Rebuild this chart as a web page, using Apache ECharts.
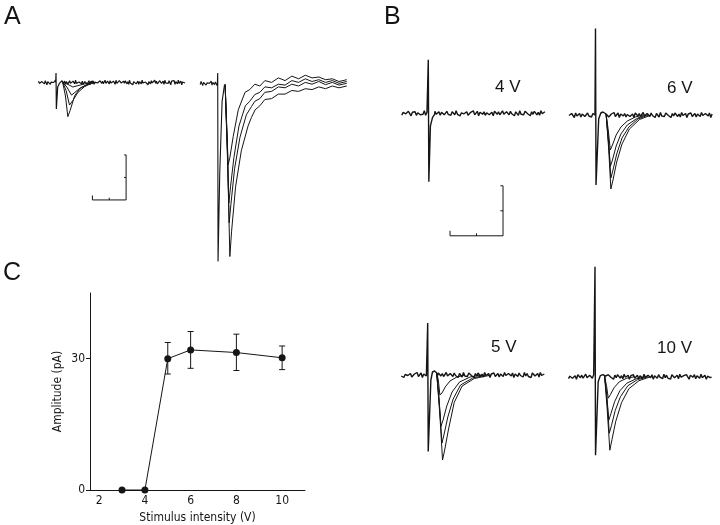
<!DOCTYPE html>
<html><head><meta charset="utf-8">
<script src="https://cdn.jsdelivr.net/npm/echarts@6/dist/echarts.min.js"></script>
<style>html,body{margin:0;padding:0;background:#fff}#c{width:720px;height:525px}</style>
</head><body><div id="c"></div>
<script>
// ---------- Panel C data ----------
const stimV  = [3, 4, 5, 6, 8, 10];
const ampPA  = [0, 0, 30.0, 32.0, 31.4, 30.2];
const errLo  = [null, null, 26.5, 27.8, 27.3, 27.5];
const errHi  = [null, null, 33.7, 36.2, 35.6, 32.9];
const xTicks = [2, 4, 6, 8, 10];
const yTicks = [0, 30];

// ---------- baseline noise (pA), one value every 0.25 ms ----------
const noise = [
  3,-2,1,-4,2,5,-1,-3,4,0,-5,2,-2,3,-4,1,4,-3,0,-2,
  5,-4,2,-1,-3,3,1,-5,4,-2,0,3,-4,2,5,-3,-1,4,-2,1,
  -4,3,0,-3,5,-2,2,-5,1,4,-1,-3,3,-4,0,2,-2,5,-3,1,
  4,-5,2,0,-2,3,-4,1,5,-3,-1,2,-5,4,0,-2,3,-3,1,5,
  -2,-4,3,1,-3,4,-1,2,-5,3,0,-4,5,-2,1,-3,4,0,-1,2,
  -5,3,-2,4,1,-3,2,-4,5,-1,0,3,-5,2,-2,4,-3,1,3,-4,
  2,0,-3,5,-1,-4,3,1,-2,4,-5,2,0,-3,4,-1,1,-4,5,-2,
  3,-3,1,-5,4,2,-2,0,3,-4,5,-1,-3,2,-2,4,1,-5,3,0,
  -1,4,-4,2,1,-3,5,-2,0,3,-5,1,4,-2,-1,3,-4,2,0,-3];

// ---------- stimulus artifacts [ms, pA] ----------
const artA1  = [[-0.1,0],[0,21],[0.1,-59],[0.5,-10],[1.0,-2],[1.5,0]];
const artA2  = [[-0.1,0],[0,23],[0.1,-396],[0.6,-200],[1.3,-40],[2.0,-4],[2.2,-3]];
const art4V  = [[-0.1,0],[0,107],[0.1,-137],[0.4,-25],[0.8,-8],[1.2,-2],[1.5,0]];
const art6V  = [[-0.1,0],[0,173],[0.1,-140],[0.6,-8],[1.0,4],[1.4,6],[2.0,2]];
const art5V  = [[-0.1,0],[0,104],[0.1,-153],[0.6,-10],[0.9,6],[1.3,8],[1.7,4]];
const art10V = [[-0.1,0],[0,220],[0.1,-157],[0.6,-10],[1.0,2],[1.5,4],[1.8,2]];

// ---------- A, left: EPSCs [ms, pA] ----------
const a1 = [[2.0,0],[3.5,-4],[5.0,-10],[6.5,-7],[8.5,-3],[11,0]];
const a2 = [[2.0,0],[3.2,-10],[4.6,-28],[5.6,-22],[7.2,-12],[9.5,-4],[12,0]];
const a3 = [[2.0,0],[3.0,-18],[4.0,-50],[5.0,-40],[6.5,-22],[8.5,-9],[11,0]];
const a4 = [[2.0,0],[2.8,-30],[3.5,-76],[4.2,-62],[5.5,-30],[7,-14],[9,-5],[11,0]];

// ---------- A, right: EPSCs [ms, pA] ----------
const r1 = [[2.2,-3],[2.7,-100],[3.1,-181],[3.6,-165],[4.6,-118],[6.1,-59],[8.1,-20],[9.5,-14],[11,-2],[12.5,-6],[14,6],[16,2],[18,12],[20,6],[22,16],[24,10],[26,18],[28,12],[30,14],[32,8],[34,10],[36,4],[38.3,8]];
const r2 = [[2.2,-3],[2.8,-130],[3.3,-266],[3.8,-230],[4.8,-165],[6.3,-95],[8.2,-50],[9.5,-40],[11,-25],[12.5,-20],[14,-8],[16,-10],[18,-2],[20,-4],[22,6],[24,2],[26,10],[28,4],[30,8],[32,2],[34,6],[36,0],[38.3,4]];
const r3 = [[2.2,-3],[2.9,-150],[3.4,-310],[3.9,-270],[5.0,-190],[6.6,-120],[8.5,-70],[10,-52],[11,-40],[12.5,-34],[14,-20],[16,-18],[18,-8],[20,-10],[22,-2],[24,-6],[26,2],[28,-2],[30,4],[32,-3],[34,2],[36,-4],[38.3,0]];
const r4 = [[2.2,-3],[3.0,-190],[3.6,-385],[4.1,-330],[5.3,-230],[7,-150],[9,-95],[10,-76],[11.1,-59],[12.5,-50],[14,-36],[16,-34],[18,-24],[20,-24],[22,-16],[24,-18],[26,-12],[28,-14],[30,-8],[32,-12],[34,-6],[36,-10],[38.3,-6]];

// ---------- B, 6 V ----------
const f1 = [[2.0,2],[2.4,-30],[2.8,-70],[3.2,-60],[3.9,-40],[4.8,-24],[6,-12],[7.5,-4],[9,0]];
const f2 = [[2.0,2],[2.4,-45],[2.8,-103],[3.2,-90],[3.9,-62],[4.8,-38],[6,-20],[7.8,-7],[9.5,0]];
const f3 = [[2.0,2],[2.5,-60],[2.9,-126],[3.3,-110],[4,-78],[5,-46],[6.3,-24],[8,-8],[10,0]];
const f4 = [[2.0,2],[2.5,-70],[2.9,-148],[3.3,-130],[4,-94],[5,-58],[6.4,-28],[8.3,-9],[10.5,0]];

// ---------- B, 5 V ----------
const e1 = [[1.7,4],[2.0,-10],[2.3,-40],[2.7,-36],[3.3,-24],[4.2,-12],[5.5,-4],[7,0]];
const e2 = [[1.7,4],[2.1,-40],[2.5,-103],[2.9,-90],[3.6,-62],[4.6,-34],[6,-14],[8,-4],[10,0]];
const e3 = [[1.7,4],[2.2,-60],[2.7,-136],[3.1,-118],[3.8,-84],[4.8,-48],[6.2,-20],[8.5,-6],[11,0]];
const e4 = [[1.7,4],[2.3,-80],[2.8,-170],[3.2,-150],[3.9,-110],[5,-55],[6.5,-22],[8.8,-7],[12,0]];

// ---------- B, 10 V ----------
const g1 = [[1.8,2],[2.2,-20],[2.5,-43],[2.9,-36],[3.6,-22],[4.6,-10],[6,-3],[7.5,0]];
const g2 = [[1.8,2],[2.2,-35],[2.6,-87],[3.0,-74],[3.7,-50],[4.7,-28],[6,-13],[7.8,-4],[9.5,0]];
const g3 = [[1.8,2],[2.3,-50],[2.7,-113],[3.1,-98],[3.8,-68],[4.8,-40],[6.2,-18],[8,-6],[10,0]];
const g4 = [[1.8,2],[2.3,-65],[2.8,-147],[3.2,-126],[3.9,-90],[5,-52],[6.4,-24],[8.3,-8],[10.5,0]];

// ---------- scale bars (10 ms, 100 pA) ----------
const scaleA      = [[10.8,-251],[10.8,-261],[20.8,-261],[20.8,-161],[20.2,-161]];
const scaleATickX = [[15.8,-261],[15.8,-256]];
const scaleATickY = [[20.8,-211],[20.2,-211]];
const scaleB      = [[4.1,-235],[4.1,-245],[14.1,-245],[14.1,-145],[13.6,-145]];
const scaleBTickX = [[9.1,-245],[9.1,-240]];
const scaleBTickY = [[14.1,-195],[13.6,-195]];

// ---------- build ----------
const STEP = 0.25;
function baseTrace(art, tStart, tEnd, off, postFrom) {
  const pts = [];
  for (let i = 0; ; i++) { const t = tStart + i * STEP; if (t > tEnd + 1e-9) break; if (t < -0.1) pts.push([t, noise[off + i]]); }
  art.forEach(p => pts.push(p));
  if (postFrom != null) {
    for (let i = 0; ; i++) { const t = tStart + i * STEP; if (t > tEnd + 1e-9) break; if (t > postFrom) pts.push([t, noise[off + i]]); }
  }
  return pts;
}
const INK = '#151515';
function ln(g, data, w) {
  return { type: 'line', xAxisIndex: g, yAxisIndex: g, data: data, symbol: 'none', showSymbol: false,
    lineStyle: { color: INK, width: w || 1 }, clip: false, silent: true, animation: false };
}

// grids: [left, top, width, height, xmin, xmax, ymin, ymax]
const gridsDef = [
  [38.5, 64.5, 146.9, 144, -5.2, 38.4, -280, 40],    // A left
  [200.2, 65.3, 146.9, 198, -5.2, 38.4, -400, 40],   // A right
  [401.8, 53.3, 143.1, 190, -5, 22, -260, 120],      // B 4V
  [569, 25, 143.1, 170, -5, 22, -160, 180],          // B 6V
  [401.2, 315, 143.1, 150, -5, 22, -180, 120],       // B 5V
  [568.5, 261.7, 143.1, 205, -5, 22, -180, 230]      // B 10V
];
const grid = [], xAxis = [], yAxis = [];
gridsDef.forEach((d, i) => {
  grid.push({ left: d[0], top: d[1], width: d[2], height: d[3] });
  xAxis.push({ gridIndex: i, type: 'value', min: d[4], max: d[5], show: false });
  yAxis.push({ gridIndex: i, type: 'value', min: d[6], max: d[7], show: false });
});
// Panel C grid
grid.push({ left: 90, top: 293, width: 215, height: 197.7 });
const CF = 'Liberation Sans Narrow, DejaVu Sans Condensed, Liberation Sans, sans-serif';
xAxis.push({ gridIndex: 6, type: 'value', min: 1.6, max: 11,
  axisLine: { lineStyle: { color: INK, width: 1 } }, axisTick: { show: false },
  splitLine: { show: false },
  axisLabel: { customValues: xTicks, color: INK, fontSize: 12, fontFamily: CF, margin: 5 },
  name: 'Stimulus intensity (V)', nameLocation: 'middle', nameGap: 22,
  nameTextStyle: { color: INK, fontSize: 12, fontFamily: CF } });
yAxis.push({ gridIndex: 6, type: 'value', min: 0, max: 45,
  axisLine: { show: true, lineStyle: { color: INK, width: 1 } },
  axisTick: { show: true, customValues: yTicks, length: 4, lineStyle: { color: INK } },
  splitLine: { show: false },
  axisLabel: { customValues: yTicks, color: INK, fontSize: 12, fontFamily: CF, margin: 5 },
  name: 'Amplitude (pA)', nameLocation: 'middle', nameGap: 26, nameRotate: 90,
  nameTextStyle: { color: INK, fontSize: 12, fontFamily: CF } });

const series = [
  ln(0, baseTrace(artA1, -5.2, 38.4, 0, 1.5), 1.2), ln(0, a1), ln(0, a2), ln(0, a3), ln(0, a4),
  ln(0, scaleA), ln(0, scaleATickX), ln(0, scaleATickY),
  ln(1, baseTrace(artA2, -5.2, 38.4, 7, null), 1.1), ln(1, r1), ln(1, r2), ln(1, r3), ln(1, r4),
  ln(2, baseTrace(art4V, -5, 22, 3, 1.2), 1.4), ln(2, scaleB), ln(2, scaleBTickX), ln(2, scaleBTickY),
  ln(3, baseTrace(art6V, -5, 22, 23, 2.0), 1.4), ln(3, f1), ln(3, f2), ln(3, f3), ln(3, f4),
  ln(4, baseTrace(art5V, -5, 22, 45, 1.7), 1.4), ln(4, e1), ln(4, e2), ln(4, e3), ln(4, e4),
  ln(5, baseTrace(art10V, -5, 22, 66, 1.8), 1.4), ln(5, g1), ln(5, g2), ln(5, g3), ln(5, g4),
  { type: 'line', xAxisIndex: 6, yAxisIndex: 6, data: stimV.map((v, i) => [v, ampPA[i]]),
    symbol: 'circle', symbolSize: 7, itemStyle: { color: INK }, lineStyle: { color: INK, width: 1 },
    clip: false, animation: false, z: 3 },
  { type: 'custom', xAxisIndex: 6, yAxisIndex: 6, animation: false, z: 2,
    data: stimV.map((v, i) => [v, errLo[i], errHi[i]]).filter(d => d[1] != null),
    renderItem: function (params, api) {
      const x = api.value(0), lo = api.coord([x, api.value(1)]), hi = api.coord([x, api.value(2)]);
      const w = 3, st = { stroke: INK, lineWidth: 1 };
      return { type: 'group', children: [
        { type: 'line', shape: { x1: lo[0], y1: lo[1], x2: hi[0], y2: hi[1] }, style: st },
        { type: 'line', shape: { x1: lo[0] - w, y1: lo[1], x2: lo[0] + w, y2: lo[1] }, style: st },
        { type: 'line', shape: { x1: hi[0] - w, y1: hi[1], x2: hi[0] + w, y2: hi[1] }, style: st }
      ] };
    } }
];

const LF = 'Liberation Sans, Arial, sans-serif';
function txt(x, y, s, size) {
  return { type: 'text', x: x, y: y, style: { text: s, fill: INK, font: size + 'px ' + LF, align: 'left', verticalAlign: 'middle' } };
}
const chart = echarts.init(document.getElementById('c'), null, { renderer: 'canvas' });
chart.setOption({
  animation: false, backgroundColor: '#fff',
  grid: grid, xAxis: xAxis, yAxis: yAxis, series: series,
  graphic: [
    txt(4, 17, 'A', 25), txt(384, 17, 'B', 25), txt(3, 273, 'C', 25),
    txt(495, 87, '4 V', 17), txt(667, 88, '6 V', 17),
    txt(491, 347, '5 V', 17), txt(657, 348, '10 V', 17)
  ]
});
</script></body></html>
